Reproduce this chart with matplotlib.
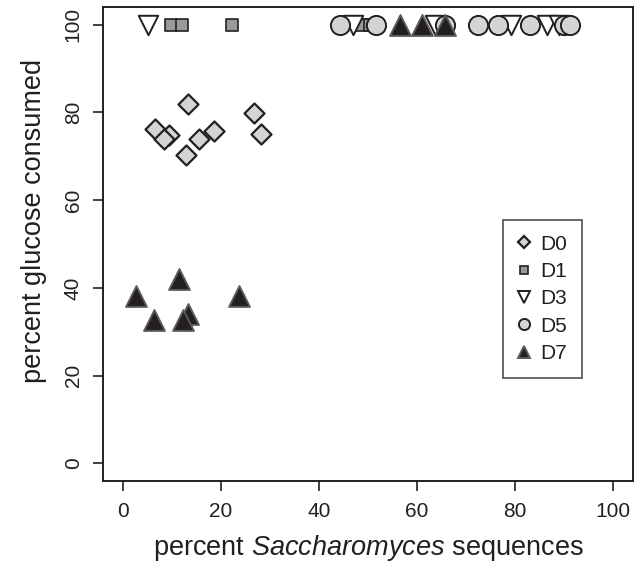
import matplotlib
matplotlib.use("Agg")
import matplotlib.pyplot as plt

plt.rcParams['font.family'] = ['Liberation Sans', 'DejaVu Sans']
plt.rcParams['mathtext.fontset'] = 'custom'
plt.rcParams['mathtext.rm'] = 'Liberation Sans'
plt.rcParams['mathtext.it'] = 'Liberation Sans:italic'

# values (percent Saccharomyces, percent glucose consumed)
d0_x = [6.5, 9.3, 8.3, 13.3, 12.9, 15.5, 18.6, 26.7, 28.1]
d0_y = [76.3, 74.9, 74.0, 81.8, 70.2, 74.0, 75.8, 79.9, 75.0]
d1_x = [9.7, 12.1, 22.3, 48.8, 50.3]
d1_y = [100, 100, 100, 100, 100]
d3_x = [5.0, 46.9, 63.6, 79.2, 86.6, 89.0]
d3_y = [100, 100, 100, 100, 100, 100]
d5_x = [44.2, 51.7, 65.6, 72.5, 76.6, 83.0, 89.9, 91.2]
d5_y = [100, 100, 100, 100, 100, 100, 100, 100]
d7_x = [56.5, 60.9, 65.6, 2.7, 11.4, 23.6, 6.3, 13.3, 12.2]
d7_y = [100, 100, 100, 38.2, 42.0, 38.2, 32.6, 34.1, 32.6]

labels = ['D0', 'D1', 'D3', 'D5', 'D7']
ticks = [0, 20, 40, 60, 80, 100]

ink = '#231f20'

fig = plt.figure(figsize=(6.4, 5.62), dpi=100)
ax = fig.add_axes([0.1617, 0.1441, 0.8269, 0.8434])

series = [
    (d0_x, d0_y, 'D', 10.2, '#d4d4d4', ink, 1.6),
    (d1_x, d1_y, 's', 8.8, '#9a9a9a', ink, 1.2),
    (d3_x, d3_y, 'v', 14.0, 'white', ink, 1.4),
    (d5_x, d5_y, 'o', 13.8, '#d4d4d4', ink, 1.4),
    (d7_x, d7_y, '^', 15.0, '#231f20', '#5a5a5a', 1.4),
]
handles = []
for (xs, ys, m, ms, fc, ec, lw), lab in zip(series, labels):
    ax.scatter(xs, ys, marker=m, s=ms ** 2, facecolor=fc, edgecolor=ec,
               linewidth=lw, zorder=3)
    h, = ax.plot([], [], linestyle='none', marker=m, markersize=ms * 0.58,
                 markerfacecolor=fc, markeredgecolor=ec, markeredgewidth=lw)
    handles.append(h)

ax.set_xlim(-4, 104)
ax.set_ylim(-4, 104)
ax.set_xticks(ticks)
ax.set_yticks(ticks)
ax.tick_params(direction='out', length=7, width=1.2, color=ink,
               labelsize=15, labelcolor=ink, pad=8)
for t in ax.get_yticklabels():
    t.set_rotation(90)
    t.set_va('center')
for sp in ax.spines.values():
    sp.set_linewidth(1.4)
    sp.set_color(ink)

ax.set_xlabel('percent $\\mathit{Saccharomyces}$ sequences', fontsize=19.5,
              color=ink, labelpad=9)
ax.set_ylabel('percent glucose consumed', fontsize=19.5, color=ink)
ax.yaxis.set_label_coords(-0.107, 0.5485)

leg = ax.legend(handles, labels, loc='upper left',
                bbox_to_anchor=(503 / 640, 1 - 220 / 562),
                bbox_transform=fig.transFigure, frameon=True, fancybox=False,
                fontsize=15, handlelength=0.6, handletextpad=0.5,
                labelspacing=0.4, borderpad=0.7, borderaxespad=0)
leg.get_frame().set_edgecolor(ink)
leg.get_frame().set_linewidth(1.2)
for t in leg.get_texts():
    t.set_color(ink)

fig.savefig('out.png', dpi=100)
